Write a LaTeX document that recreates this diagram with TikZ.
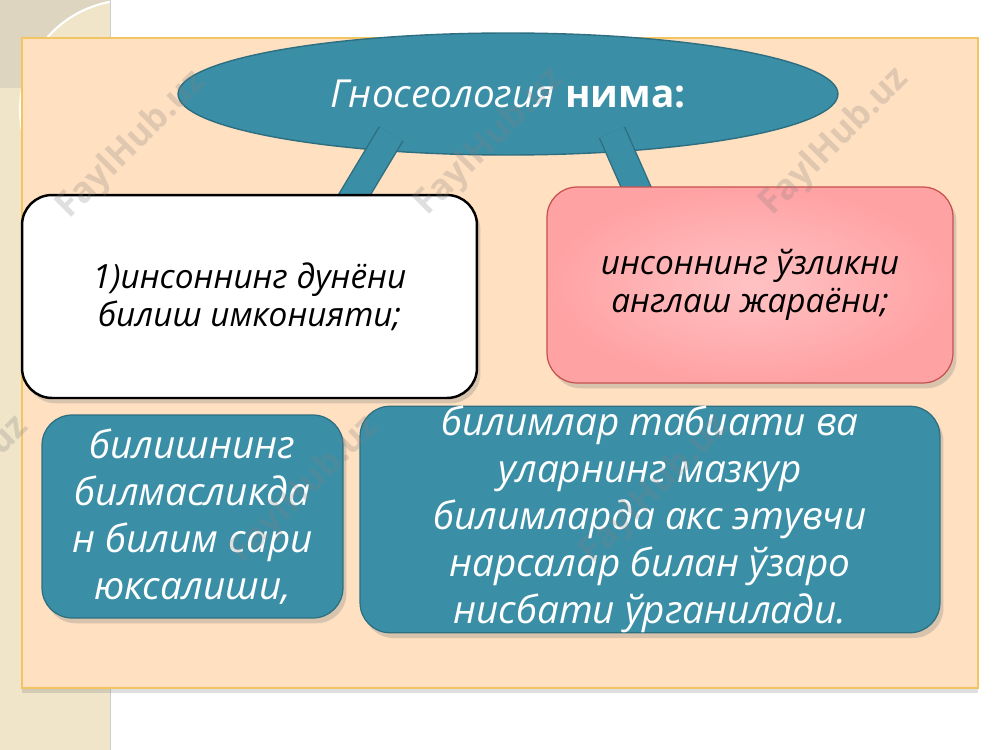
\documentclass[tikz,border=0pt]{standalone}
\usepackage{fontspec}
\setmainfont{Open Sans}
\usetikzlibrary{shapes.geometric,shadows}
\definecolor{tealfill}{HTML}{3A8FA7}
\definecolor{tealline}{HTML}{2D6E80}
\definecolor{peach}{HTML}{FFE0C1}
\definecolor{panelline}{HTML}{F2C462}
\definecolor{pinkin}{HTML}{FFC2C3}
\definecolor{pinkout}{HTML}{FFA2A4}
\definecolor{pinkline}{HTML}{C8504F}
\definecolor{stripbg}{HTML}{F0E5C8}
\definecolor{stripgray}{HTML}{DDD5C0}
\pgfdeclarelayer{back}
\pgfdeclarelayer{mid}
\pgfsetlayers{back,mid,main}

\begin{document}
\begin{tikzpicture}[x=0.02cm,y=-0.02cm,
    card/.style={rounded corners=0.6cm, inner sep=0pt, align=center,
      drop shadow={opacity=0.3, shadow xshift=2pt, shadow yshift=-3pt}},
    whitecard/.style={card, draw=black, line width=1.4pt, fill=white,
      font=\fontsize{19}{21.6}\selectfont\itshape},
    pinkcard/.style={card, draw=pinkline, line width=0.7pt, inner color=pinkin, outer color=pinkout,
      font=\fontsize{19}{21.6}\selectfont\itshape},
    tealcard/.style={card, draw=tealline, line width=0.7pt, fill=tealfill, text=white,
      font=\fontsize{22}{26.7}\selectfont\itshape},
    bar/.style={draw=tealline, line width=0.8pt, double=tealfill, double distance=14.8pt},
    wmark/.style={rotate=45, text=gray, opacity=0.25, font=\fontsize{20}{20}\selectfont\bfseries}
  ]
  \useasboundingbox (0,0) rectangle (1000,750);

  \begin{pgfonlayer}{back}
    % Left strip of the slide
    \fill[stripbg] (0,0) rectangle (110,750);
    \fill[stripgray] (0,0) rectangle (110,88);
    \begin{scope}
      \clip (0,0) rectangle (110,750);
      \fill[stripbg] (130,110) circle (110);
      \draw[white, line width=1.2pt] (130,110) circle (110);
    \end{scope}
    \draw[gray!40] (110,0) -- (110,750);

    % Panel
    \filldraw[fill=peach, draw=panelline, line width=0.9pt,
      drop shadow={opacity=0.25, shadow xshift=0pt, shadow yshift=-3pt}]
      (22,38) rectangle (978,688);

    % Title ellipse
    \node[ellipse, draw=tealline, line width=0.8pt, fill=tealfill, text=white,
      minimum width=13.2cm, minimum height=2.44cm, inner sep=0pt,
      font=\fontsize{22}{26}\selectfont] (gnos) at (508,94)
      {\itshape Гносеология \upshape\bfseries нима:};
  \end{pgfonlayer}

  % Cards
  \node[whitecard, minimum width=9.1cm, minimum height=4.06cm] (world) at (249.5,296.5)
    {1)инсоннинг дунёни\\билиш имконияти;};
  \node[pinkcard, minimum width=8.12cm, minimum height=3.92cm] (self) at (750,285)
    {инсоннинг ўзликни\\англаш жараёни;};
  \node[tealcard, minimum width=6.02cm, minimum height=4.06cm] (rise) at (192.5,516.5)
    {билишнинг\\билмасликда\\н билим сари\\юксалиши,};
  \node[tealcard, minimum width=11.6cm, minimum height=4.5cm] (nature) at (650,519.5)
    {билимлар табиати ва\\уларнинг мазкур\\билимларда акс этувчи\\нарсалар билан ўзаро\\нисбати ўрганилади.};

  % Bars from the ellipse down to the cards
  \begin{pgfonlayer}{mid}
    \draw[bar] ([shift={(-117,40)}]gnos.center) -- ([shift={(96.5,15)}]world.north);
    \draw[bar] ([shift={(104,38.5)}]gnos.center) -- ([shift={(-108.5,13)}]self.north);
  \end{pgfonlayer}

  % Watermarks
  \foreach \wx/\wy [count=\i] in {132/145, 490/142, 835/142, -45/490, 305/490, 655/490}
    \node[wmark] (wm\i) at (\wx,\wy) {FaylHub.uz};
\end{tikzpicture}
\end{document}
